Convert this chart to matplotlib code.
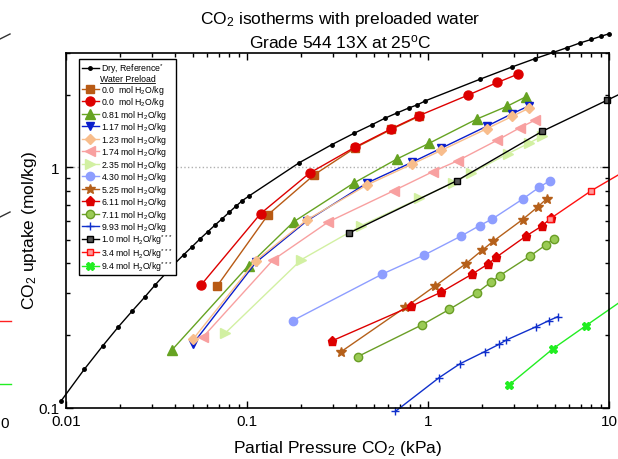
# CO2 isotherms with preloaded water, grade 544 13X at 25 C
import matplotlib
matplotlib.use('Agg')
import matplotlib.pyplot as plt
from matplotlib.lines import Line2D
from matplotlib.ticker import FuncFormatter, NullFormatter, LogLocator

plt.rcParams['font.family'] = ['Liberation Sans', 'DejaVu Sans']
plt.rcParams['mathtext.fontset'] = 'custom'
plt.rcParams['mathtext.rm'] = 'Liberation Sans'
plt.rcParams['mathtext.it'] = 'Liberation Sans:italic'
plt.rcParams['mathtext.bf'] = 'Liberation Sans:bold'

# ---- data (kPa, mol/kg) ----
dry_p = [0.00935, 0.0126, 0.0160, 0.0195, 0.0232, 0.0272, 0.0311, 0.0396, 0.0446, 0.0497,
         0.0551, 0.0607, 0.0666, 0.0728, 0.0796, 0.0869, 0.0943, 0.103, 0.194, 0.293,
         0.388, 0.489, 0.580, 0.678, 0.789, 0.874, 0.968, 1.95, 2.91, 3.88,
         4.92, 5.85, 6.90, 8.00, 9.00, 10.05]
dry_q = [0.106, 0.144, 0.181, 0.217, 0.252, 0.288, 0.324, 0.395, 0.432, 0.467,
         0.504, 0.539, 0.575, 0.610, 0.649, 0.689, 0.727, 0.761, 1.044, 1.241,
         1.383, 1.503, 1.603, 1.687, 1.770, 1.820, 1.892, 2.331, 2.616, 2.830,
         3.007, 3.147, 3.292, 3.408, 3.510, 3.600]

sq00_p = [0.0683, 0.131, 0.236, 0.396, 0.626, 0.889]
sq00_q = [0.320, 0.636, 0.933, 1.205, 1.437, 1.628]

ci00_p = [0.0558, 0.119, 0.222, 0.396, 0.626, 0.889, 1.67, 2.42, 3.15]
ci00_q = [0.324, 0.642, 0.947, 1.214, 1.446, 1.639, 2.00, 2.256, 2.445]

w081_p = [0.0386, 0.102, 0.181, 0.388, 0.672, 1.01, 1.86, 2.72, 3.48]
w081_q = [0.174, 0.390, 0.593, 0.859, 1.082, 1.257, 1.588, 1.792, 1.967]

w117_p = [0.0502, 0.112, 0.214, 0.461, 0.817, 1.18, 2.11, 2.91, 3.63]
w117_q = [0.184, 0.402, 0.598, 0.861, 1.050, 1.200, 1.482, 1.671, 1.805]

w123_p = [0.0502, 0.112, 0.214, 0.461, 0.817, 1.18, 2.11, 2.91, 3.63]
w123_q = [0.192, 0.409, 0.604, 0.845, 1.031, 1.175, 1.447, 1.628, 1.765]

w174_p = [0.0573, 0.139, 0.282, 0.649, 1.06, 1.46, 2.42, 3.22, 3.91]
w174_q = [0.197, 0.411, 0.593, 0.800, 0.958, 1.065, 1.298, 1.461, 1.573]

w235_p = [0.0758, 0.200, 0.428, 0.897, 1.37, 1.73, 2.75, 3.63, 4.26]
w235_q = [0.204, 0.413, 0.572, 0.742, 0.859, 0.944, 1.138, 1.262, 1.349]

w430_p = [0.179, 0.558, 0.952, 1.52, 1.93, 2.27, 3.33, 4.10, 4.73]
w430_q = [0.230, 0.359, 0.431, 0.517, 0.572, 0.610, 0.737, 0.824, 0.881]

w525_p = [0.332, 0.748, 1.09, 1.62, 2.00, 2.30, 3.33, 4.05, 4.52]
w525_q = [0.171, 0.261, 0.320, 0.397, 0.453, 0.493, 0.606, 0.685, 0.739]

w611_p = [0.293, 0.807, 1.18, 1.74, 2.15, 2.39, 3.49, 4.28, 4.79]
w611_q = [0.189, 0.264, 0.302, 0.358, 0.396, 0.423, 0.518, 0.571, 0.616]

w711_p = [0.410, 0.928, 1.31, 1.87, 2.23, 2.49, 3.66, 4.46, 4.96]
w711_q = [0.163, 0.221, 0.256, 0.301, 0.333, 0.354, 0.427, 0.474, 0.505]

w993_p = [0.661, 1.15, 1.50, 2.06, 2.46, 2.71, 3.96, 4.65, 5.22]
w993_q = [0.0964, 0.133, 0.152, 0.171, 0.183, 0.191, 0.217, 0.230, 0.239]

r10_p = [0.365, 1.45, 4.26, 9.8, 19.6]
r10_q = [0.532, 0.881, 1.41, 1.905, 2.45]

r34_p = [4.75, 8.0, 19.0]
r34_q = [0.612, 0.800, 1.17]

r94_p = [2.80, 4.92, 7.45, 16.6]
r94_q = [0.124, 0.176, 0.219, 0.333]

labels = ['Dry, Reference$^{*}$',
          '0.0  mol H$_2$O/kg', '0.0  mol H$_2$O/kg', '0.81 mol H$_2$O/kg',
          '1.17 mol H$_2$O/kg', '1.23 mol H$_2$O/kg', '1.74 mol H$_2$O/kg',
          '2.35 mol H$_2$O/kg', '4.30 mol H$_2$O/kg', '5.25 mol H$_2$O/kg',
          '6.11 mol H$_2$O/kg', '7.11 mol H$_2$O/kg', '9.93 mol H$_2$O/kg',
          '1.0 mol H$_2$O/kg$^{***}$', '3.4 mol H$_2$O/kg$^{***}$',
          '9.4 mol H$_2$O/kg$^{***}$']

fig = plt.figure(figsize=(6.18, 4.60), dpi=100)
ax = fig.add_axes([66/618., 1 - 408.5/460., 543/618., 354.8/460.])

def draw(p, q, lab, c, m, ms=6, mfc=None, mec=None, lw=1.0, z=2):
    return ax.plot(p, q, color=c, marker=m, ms=ms, mfc=mfc or c, mec=mec or c,
                   lw=lw, label=lab, clip_on=False, zorder=z)[0]

h = []
h.append(draw(dry_p, dry_q, labels[0], 'black', 'o', ms=2.5))
h.append(draw(sq00_p, sq00_q, labels[1], '#b85a14', 's', ms=5.5))
h.append(draw(ci00_p, ci00_q, labels[2], '#dd0000', 'o', ms=6.5))
h.append(draw(w081_p, w081_q, labels[3], '#66a322', '^', ms=6.5))
h.append(draw(w117_p, w117_q, labels[4], '#0a1ecc', 'v', ms=6))
h.append(draw(w123_p, w123_q, labels[5], '#f8bd8c', 'D', ms=5.5))
h.append(draw(w174_p, w174_q, labels[6], '#f8a0a0', '<', ms=6.5))
h.append(draw(w235_p, w235_q, labels[7], '#d2f0a2', '>', ms=6.5))
h.append(draw(w430_p, w430_q, labels[8], '#8e9eff', 'o', ms=6))
h.append(draw(w525_p, w525_q, labels[9], '#b5601a', '*', ms=7.5))
h.append(draw(w611_p, w611_q, labels[10], '#dd0000', 'p', ms=6.5))
h.append(draw(w711_p, w711_q, labels[11], '#6a9e26', 'o', ms=6, mfc='#9acb55'))
h.append(draw(w993_p, w993_q, labels[12], '#1030cc', '+', ms=6))
h.append(draw(r10_p, r10_q, labels[13], 'black', 's', ms=4.5, mfc='#555555'))
h.append(draw(r34_p, r34_q, labels[14], '#ff1010', 's', ms=4.5, mfc='#ff9a9a'))
h.append(draw(r94_p, r94_q, labels[15], '#22ee22', 'X', ms=6))

ax.axhline(1.0, color='#b0b0b0', ls=':', lw=1.0, zorder=1)

ax.set_xscale('log')
ax.set_yscale('log')
ax.set_xlim(0.01, 10)
ax.set_ylim(0.1, 3.0)
fmt = FuncFormatter(lambda v, pos: '%g' % v)
ax.xaxis.set_major_formatter(fmt)
ax.yaxis.set_major_formatter(fmt)
ax.xaxis.set_minor_locator(LogLocator(subs=range(2, 10)))
ax.yaxis.set_minor_locator(LogLocator(subs=range(2, 10)))
ax.xaxis.set_minor_formatter(NullFormatter())
ax.yaxis.set_minor_formatter(NullFormatter())
ax.tick_params(which='both', direction='in', top=True, right=True, labelsize=11, width=1.0)
ax.tick_params(which='major', length=5, pad=5)
ax.tick_params(which='minor', length=3)
for s in ax.spines.values():
    s.set_linewidth(1.2)

# legend, with a blank row for the "Water Preload" header
blank = Line2D([], [], ls='none')
hands = [h[0], blank] + h[1:]
labs = [labels[0], ' '] + labels[1:]
leg = ax.legend(hands, labs, loc='upper left', bbox_to_anchor=(13/543., 1 - 6/354.8),
                borderaxespad=0, fontsize=6.3, labelspacing=-0.06, handlelength=2.0,
                handletextpad=0.25, borderpad=0.3, fancybox=False, framealpha=1,
                edgecolor='black')
leg.get_frame().set_linewidth(1.0)

fig.text(340/618., 1 - 24/460., 'CO$_2$ isotherms with preloaded water',
         ha='center', va='baseline', fontsize=12.5)
fig.text(340/618., 1 - 48/460., 'Grade 544 13X at 25$^{\\rm o}$C',
         ha='center', va='baseline', fontsize=12.5)
fig.text(338/618., 1 - 453/460., 'Partial Pressure CO$_2$ (kPa)',
         ha='center', va='baseline', fontsize=12.5)
fig.text(30/618., 1 - 231/460., 'CO$_2$ uptake (mol/kg)', rotation=90,
         ha='center', va='center', fontsize=12.5)

# bits of the neighbouring panel cut off at the left edge
for (x0, y0, x1, y1, c) in [(0, 40, 10, 35, '#333333'), (0, 218, 10, 213, '#333333'),
                            (0, 322, 11, 322, '#ff2020'), (0, 385, 11, 385, '#22ee22')]:
    fig.add_artist(Line2D([x0/618., x1/618.], [1 - y0/460., 1 - y1/460.], color=c, lw=1))
fig.text(0.5/618., 1 - 424/460., '0', ha='left', va='center', fontsize=11)

# header text underlined, placed on the blank legend row
fig.canvas.draw()
r = fig.canvas.get_renderer()
fb = leg.get_frame().get_window_extent(r)
tb = leg.get_texts()[1].get_window_extent(r)
yc = (tb.y0 + tb.y1) / 2.0
xc = (fb.x0 + fb.x1) / 2.0
t = fig.text(xc / fig.bbox.width, yc / fig.bbox.height, 'Water Preload',
             ha='center', va='center', fontsize=6.3, zorder=10)
fig.canvas.draw()
bb = t.get_window_extent(r)
fig.add_artist(Line2D([bb.x0 / fig.bbox.width, bb.x1 / fig.bbox.width],
                      [(bb.y0 + 0.5) / fig.bbox.height] * 2, color='black', lw=0.6))

fig.savefig('out.png', dpi=100)
